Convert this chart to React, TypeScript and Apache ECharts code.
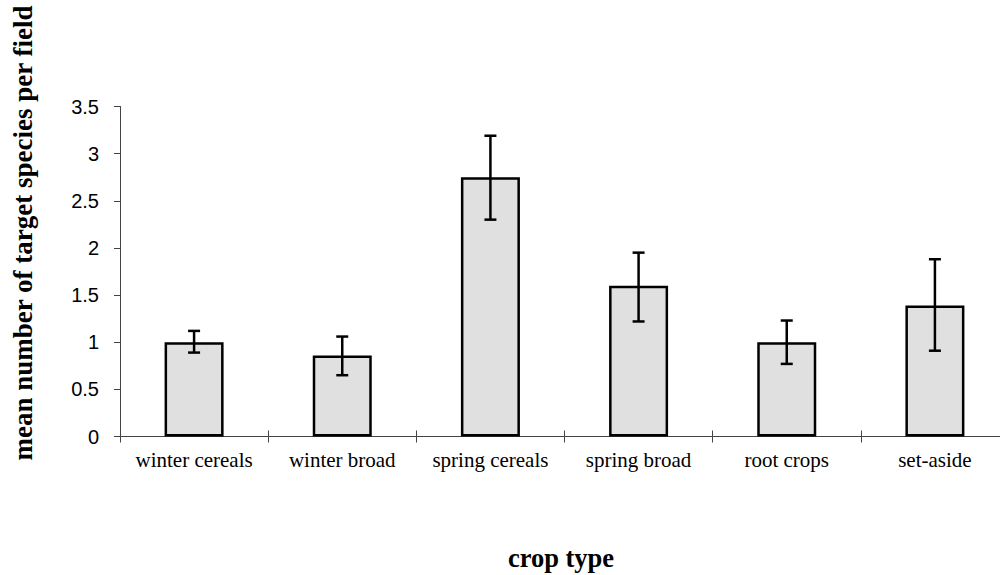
import React, { useEffect, useRef } from "react";
import * as echarts from "echarts";

const categories = ["winter cereals", "winter broad", "spring cereals", "spring broad", "root crops", "set-aside"];
const means = [1.0, 0.86, 2.75, 1.6, 1.0, 1.39];
const errLow = [0.89, 0.65, 2.3, 1.22, 0.77, 0.91];
const errHigh = [1.12, 1.06, 3.19, 1.95, 1.23, 1.88];
const yTitle = "mean number of target species per field";
const xTitle = "crop type";

export default function App() {
  const ref = useRef<HTMLDivElement>(null);
  useEffect(() => {
    if (!ref.current) return;
    const chart = echarts.init(ref.current, undefined, { renderer: "svg" });
    const errData = categories.map((_, i) => [i, errLow[i], errHigh[i]]);
    chart.setOption({
      animation: false,
      grid: { left: 120, right: 0, top: 106.5, bottom: 575 - 436.5, containLabel: false },
      xAxis: [
        {
          type: "category",
          data: categories,
          position: "bottom",
          axisLine: { show: true, lineStyle: { color: "#444", width: 1 } },
          axisTick: { show: true, inside: true, length: 6, lineStyle: { color: "#444" } },
          axisLabel: {
            color: "#000",
            fontFamily: "Liberation Serif",
            fontSize: 21,
            margin: 13,
            interval: 0,
            hideOverlap: false,
          },
        },
        {
          type: "category",
          data: categories,
          position: "bottom",
          axisLine: { show: false },
          axisTick: { show: true, inside: false, length: 6, lineStyle: { color: "#444" } },
          axisLabel: { show: false },
        },
      ],
      yAxis: {
        type: "value",
        min: 0,
        max: 3.5,
        interval: 0.5,
        splitLine: { show: false },
        axisLine: { show: true, lineStyle: { color: "#444", width: 1 } },
        axisTick: { show: true, length: 6, lineStyle: { color: "#444" } },
        axisLabel: { color: "#000", fontFamily: "Liberation Sans", fontSize: 20, margin: 21 },
      },
      graphic: [
        {
          type: "text",
          x: 23,
          y: 233,
          rotation: Math.PI / 2,
          style: {
            text: yTitle,
            fontFamily: "Liberation Serif",
            fontWeight: "bold",
            fontSize: 27,
            fill: "#000",
            align: "center",
            verticalAlign: "middle",
          },
        },
        {
          type: "text",
          x: 561,
          y: 558,
          style: {
            text: xTitle,
            fontFamily: "Liberation Serif",
            fontWeight: "bold",
            fontSize: 26.5,
            fill: "#000",
            align: "center",
            verticalAlign: "middle",
          },
        },
      ],
      series: [
        {
          type: "bar",
          data: means,
          barWidth: 59,
          itemStyle: { color: "#e0e0e0", borderColor: "#000", borderWidth: 2.5 },
        },
        {
          type: "custom",
          data: errData,
          z: 10,
          renderItem: (params: any, api: any) => {
            const x = api.value(0);
            const lo = api.coord([x, api.value(1)]);
            const hi = api.coord([x, api.value(2)]);
            const hw = 6;
            const style = { stroke: "#000", lineWidth: 2.5 };
            return {
              type: "group",
              children: [
                { type: "line", shape: { x1: lo[0], y1: lo[1], x2: hi[0], y2: hi[1] }, style },
                { type: "line", shape: { x1: lo[0] - hw, y1: lo[1], x2: lo[0] + hw, y2: lo[1] }, style },
                { type: "line", shape: { x1: hi[0] - hw, y1: hi[1], x2: hi[0] + hw, y2: hi[1] }, style },
              ],
            };
          },
        },
      ],
    });
    return () => chart.dispose();
  }, []);
  return (
    <div
      style={{ position: "fixed", left: 0, top: 0, width: 1000, height: 575, overflow: "hidden", background: "#fff" }}
    >
      <div ref={ref} style={{ width: 1009, height: 575 }} />
    </div>
  );
}
